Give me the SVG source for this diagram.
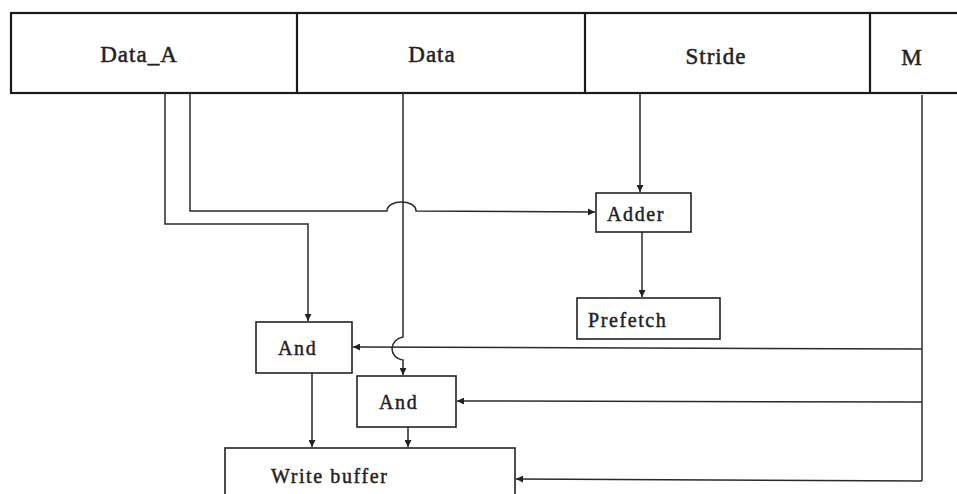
<svg xmlns="http://www.w3.org/2000/svg" width="957" height="494" viewBox="0 0 957 494">
<style>
.box{fill:#fff;stroke:#222;stroke-width:1.6}
.bar{fill:#fff;stroke:#1a1a1a;stroke-width:2.2}
.ln{fill:none;stroke:#2a2a2a;stroke-width:1.5}
.hd{font-family:"Liberation Serif","Times New Roman",serif;font-size:23px;letter-spacing:1px;fill:#222;stroke:#222;stroke-width:0.5;text-anchor:middle}
.lb{font-family:"Liberation Serif","Times New Roman",serif;font-size:20px;letter-spacing:1.6px;fill:#222;stroke:#222;stroke-width:0.45}
</style>
<defs>
<marker id="ar" viewBox="0 0 10 10" refX="10" refY="5" markerWidth="7" markerHeight="7" markerUnits="userSpaceOnUse" orient="auto">
<path d="M0,0 L10,5 L0,10 z" fill="#222"/>
</marker>
</defs>
<rect width="957" height="494" fill="#fff"/>
<g id="register">
<rect class="bar" x="11" y="13" width="960" height="80"/>
<line class="bar" x1="297" y1="13" x2="297" y2="93"/>
<line class="bar" x1="585" y1="13" x2="585" y2="93"/>
<line class="bar" x1="870" y1="13" x2="870" y2="93"/>
<text class="hd" x="139" y="62">Data_A</text>
<text class="hd" x="432" y="62">Data</text>
<text class="hd" x="716" y="64">Stride</text>
<text class="hd" x="912" y="65">M</text>
</g>
<g id="connectors">
<path class="ln" d="M165 93 L165 224 L308 224 L308 321" marker-end="url(#ar)"/>
<path class="ln" d="M190 93 L190 211 L387 211 C387 199, 416 199, 416 211 L595 212" marker-end="url(#ar)"/>
<path class="ln" d="M403 93 L403 337 C390 339, 387 357, 403 360 L403 375" marker-end="url(#ar)"/>
<path class="ln" d="M640 93 L640 192" marker-end="url(#ar)"/>
<path class="ln" d="M642 232 L642 297" marker-end="url(#ar)"/>
<path class="ln" d="M922 95 L922 481"/>
<path class="ln" d="M922 349 L353 347" marker-end="url(#ar)"/>
<path class="ln" d="M922 402 L457 401" marker-end="url(#ar)"/>
<path class="ln" d="M922 481 L516 479" marker-end="url(#ar)"/>
<path class="ln" d="M312 373 L312 447" marker-end="url(#ar)"/>
<path class="ln" d="M408 427 L408 447" marker-end="url(#ar)"/>
</g>
<g id="adder">
<rect class="box" x="596" y="193" width="95" height="39"/>
<text class="lb" x="607" y="221">Adder</text>
</g>
<g id="prefetch">
<rect class="box" x="577" y="298" width="143" height="41"/>
<text class="lb" x="588" y="327">Prefetch</text>
</g>
<g id="and1">
<rect class="box" x="256" y="322" width="96" height="51"/>
<text class="lb" x="278" y="355">And</text>
</g>
<g id="and2">
<rect class="box" x="357" y="376" width="99" height="51"/>
<text class="lb" x="379" y="409">And</text>
</g>
<g id="writebuffer">
<rect class="box" x="225" y="448" width="290" height="60"/>
<text class="lb" x="271" y="483">Write buffer</text>
</g>
</svg>
